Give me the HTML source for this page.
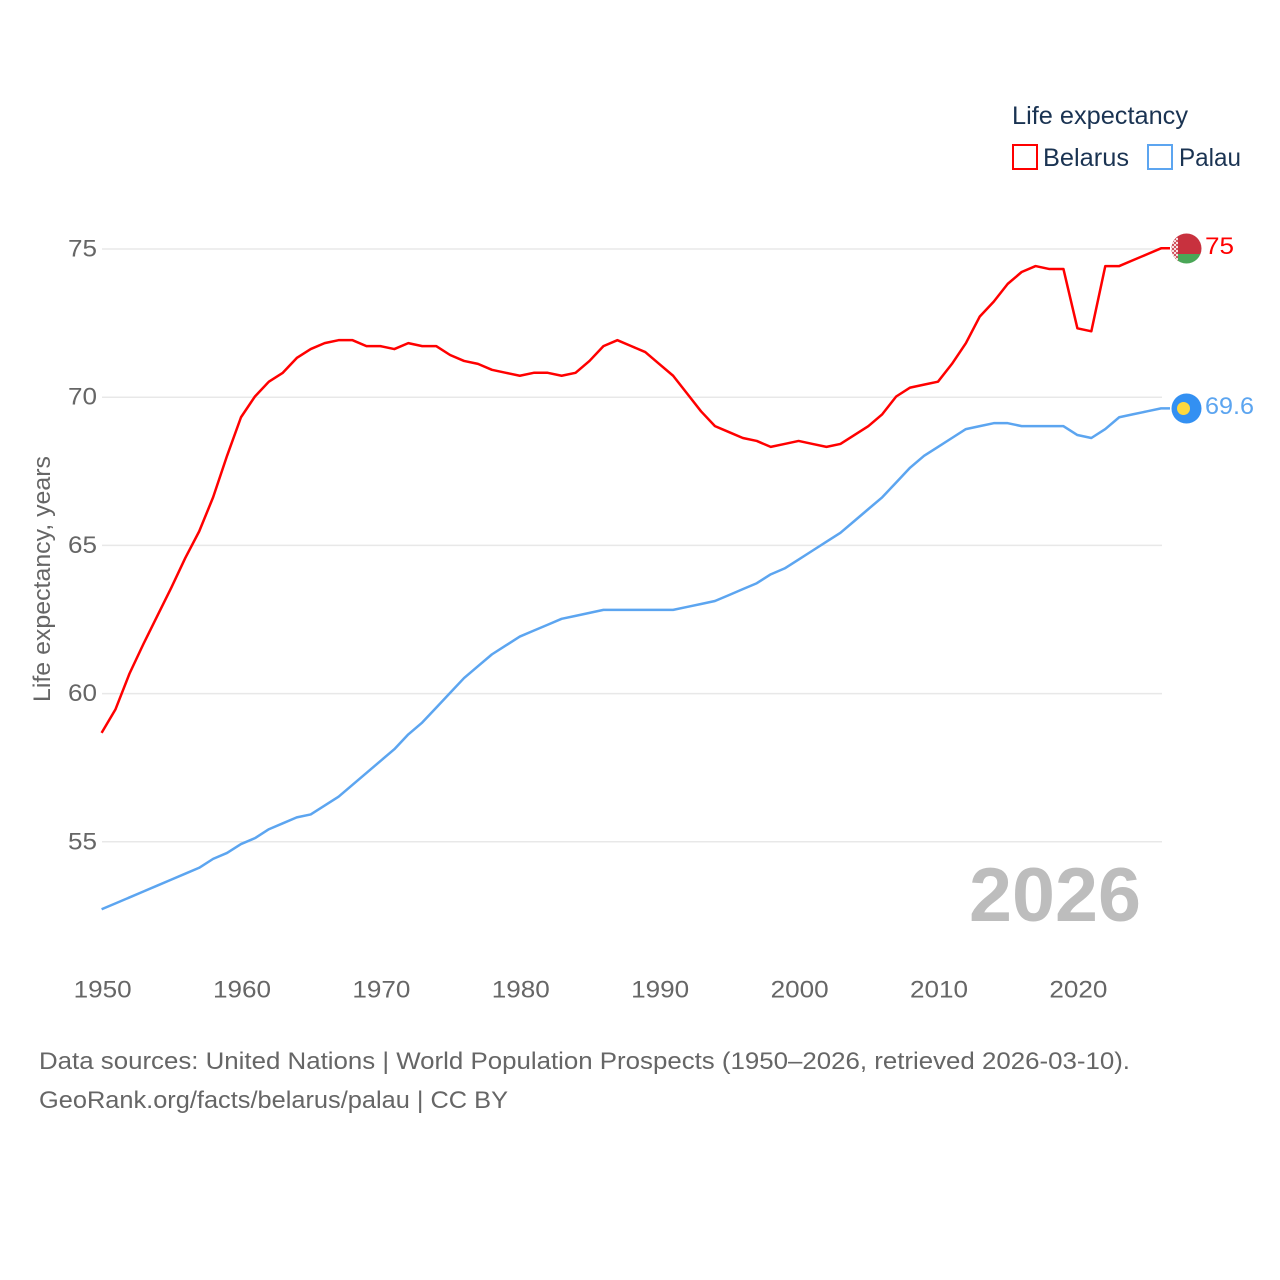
<!DOCTYPE html>
<html lang="en">
<head>
<meta charset="utf-8">
<title>Life expectancy: Belarus and Palau</title>
<style>
html,body{margin:0;padding:0;background:#fff;width:1280px;height:1280px;overflow:hidden}
svg{display:block}
text{font-family:"Liberation Sans",sans-serif}
.tick{font-size:24px;fill:#666}
.legend{font-size:25px;fill:#1a3352}
.source{font-size:24.5px;fill:#666}
</style>
</head>
<body>
<svg id="chart" width="1280" height="1280" viewBox="0 0 1280 1280" xmlns="http://www.w3.org/2000/svg">
  <g id="grid"></g>
  <g id="yticks"></g>
  <g id="xticks"></g>
  <text transform="translate(50,702) rotate(-90)" font-size="24" fill="#666" textLength="246" lengthAdjust="spacingAndGlyphs">Life expectancy, years</text>
  <text x="969" y="921" font-size="76" font-weight="700" fill="#bdbdbd" textLength="172" lengthAdjust="spacingAndGlyphs">2026</text>
  <g id="series"></g>

  <g>
    <text class="legend" x="1012" y="124" textLength="176" lengthAdjust="spacingAndGlyphs">Life expectancy</text>
    <g>
      <rect x="1013" y="145" width="24" height="24" fill="#fff" stroke="#ff0000" stroke-width="2"/>
      <text class="legend" x="1043" y="166" textLength="86" lengthAdjust="spacingAndGlyphs">Belarus</text>
    </g>
    <g>
      <rect x="1148" y="145" width="24" height="24" fill="#fff" stroke="#5ca5f0" stroke-width="2"/>
      <text class="legend" x="1179" y="166" textLength="62" lengthAdjust="spacingAndGlyphs">Palau</text>
    </g>
  </g>

  <defs>
    <clipPath id="flag-clip-by"><circle cx="1186.5" cy="248.5" r="15"/></clipPath>
    <pattern id="by-ornament" width="4" height="4" patternUnits="userSpaceOnUse">
      <rect width="4" height="4" fill="#f6dfe1"/>
      <rect width="2" height="2" fill="#d0535f"/>
      <rect x="2" y="2" width="2" height="2" fill="#d0535f"/>
    </pattern>
  </defs>
  <g clip-path="url(#flag-clip-by)">
    <rect x="1171" y="233" width="31" height="21" fill="#c8313e"/>
    <rect x="1171" y="254" width="31" height="11" fill="#4aa657"/>
    <rect x="1171" y="233" width="7" height="32" fill="url(#by-ornament)"/>
  </g>
  <g>
    <circle cx="1186.5" cy="408.5" r="15" fill="#3390f2"/>
    <circle cx="1183.5" cy="408.5" r="6.5" fill="#ffd83d"/>
  </g>
  <text x="1205" y="254" font-size="24" fill="#ff0000" textLength="29" lengthAdjust="spacingAndGlyphs">75</text>
  <text x="1205" y="414" font-size="24" fill="#5ca5f0" textLength="49" lengthAdjust="spacingAndGlyphs">69.6</text>

  <g>
    <text class="source" x="39" y="1069" textLength="1091" lengthAdjust="spacingAndGlyphs">Data sources: United Nations | World Population Prospects (1950–2026, retrieved 2026-03-10).</text>
    <text class="source" x="39" y="1108" textLength="469" lengthAdjust="spacingAndGlyphs">GeoRank.org/facts/belarus/palau | CC BY</text>
  </g>
</svg>
<script>
const firstYear = 1950;
const belarusValues = [58.65,59.45,60.65,61.65,62.6,63.55,64.55,65.45,66.6,68.0,69.3,70.0,70.5,70.8,71.3,71.6,71.8,71.9,71.9,71.7,71.7,71.6,71.8,71.7,71.7,71.4,71.2,71.1,70.9,70.8,70.7,70.8,70.8,70.7,70.8,71.2,71.7,71.9,71.7,71.5,71.1,70.7,70.1,69.5,69.0,68.8,68.6,68.5,68.3,68.4,68.5,68.4,68.3,68.4,68.7,69.0,69.4,70.0,70.3,70.4,70.5,71.1,71.8,72.7,73.2,73.8,74.2,74.4,74.3,74.3,72.3,72.2,74.4,74.4,74.6,74.8,75.0];
const palauValues = [52.7,52.9,53.1,53.3,53.5,53.7,53.9,54.1,54.4,54.6,54.9,55.1,55.4,55.6,55.8,55.9,56.2,56.5,56.9,57.3,57.7,58.1,58.6,59.0,59.5,60.0,60.5,60.9,61.3,61.6,61.9,62.1,62.3,62.5,62.6,62.7,62.8,62.8,62.8,62.8,62.8,62.8,62.9,63.0,63.1,63.3,63.5,63.7,64.0,64.2,64.5,64.8,65.1,65.4,65.8,66.2,66.6,67.1,67.6,68.0,68.3,68.6,68.9,69.0,69.1,69.1,69.0,69.0,69.0,69.0,68.7,68.6,68.9,69.3,69.4,69.5,69.6];
const yTickValues = [55,60,65,70,75];
const xTickValues = [1950,1960,1970,1980,1990,2000,2010,2020];

const NS = 'http://www.w3.org/2000/svg';
function xScale(year){ return 101.6 + (year - 1950) * 13.94; }
function yScale(v){ return 249 + (75 - v) * 29.64; }
function make(tag, attrs, parent){
  const el = document.createElementNS(NS, tag);
  for (const k in attrs) el.setAttribute(k, attrs[k]);
  parent.appendChild(el);
  return el;
}
const grid = document.getElementById('grid');
const yticks = document.getElementById('yticks');
const xticks = document.getElementById('xticks');
const seriesGroup = document.getElementById('series');

yTickValues.forEach(function(v){
  const line = make('line', {x1: 102, x2: 1162, y1: yScale(v), y2: yScale(v), stroke: '#e8e8e8', 'stroke-width': 1.5}, grid);
  
  
  const label = make('text', {x: 97, y: yScale(v) + 7.5, 'text-anchor': 'end', class: 'tick', textLength: 29, lengthAdjust: 'spacingAndGlyphs'}, yticks);
  
  
  label.textContent = v;
});

xTickValues.forEach(function(y){
  const label = make('text', {x: xScale(y) + 1, y: 997.5, 'text-anchor': 'middle', class: 'tick', textLength: 58, lengthAdjust: 'spacingAndGlyphs'}, xticks);
  
  
  label.textContent = y;
});

function lineY(v){ return yScale(v) - 0.7; }
function pathFor(values){
  const pts = values.map(function(v, i){
    return (i ? 'L' : 'M') + xScale(firstYear + i).toFixed(2) + ' ' + lineY(v).toFixed(2);
  });
  pts.push('H1170');
  return pts.join(' ');
}
const palauLine = make('path', {d: pathFor(palauValues), fill: 'none', stroke: '#5ca5f0', 'stroke-width': 2.5, 'stroke-linejoin': 'round'}, seriesGroup);


const belarusLine = make('path', {d: pathFor(belarusValues), fill: 'none', stroke: '#ff0000', 'stroke-width': 2.5, 'stroke-linejoin': 'round'}, seriesGroup);


</script>
</body>
</html>
